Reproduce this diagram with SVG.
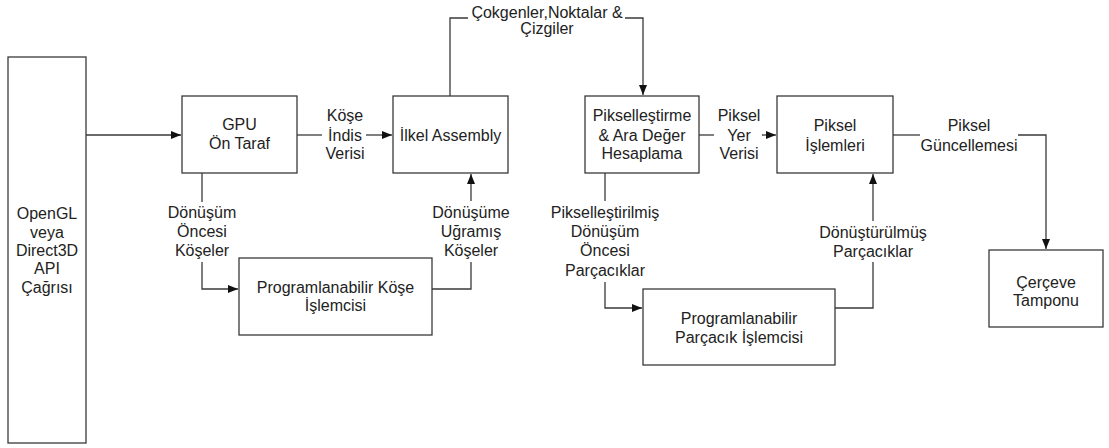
<svg xmlns="http://www.w3.org/2000/svg" width="1109" height="448" viewBox="0 0 1109 448">
<defs>
<style>
.box{fill:#fff;stroke:#3a3a3a;stroke-width:1.3}
.t{font-family:"Liberation Sans",Arial,sans-serif;font-size:16px;fill:#222;text-anchor:middle;dominant-baseline:central}
.c{fill:none;stroke:#3a3a3a;stroke-width:1.3}
</style>
<marker id="ah" viewBox="0 0 10 8" refX="10" refY="4" markerWidth="10" markerHeight="8" markerUnits="userSpaceOnUse" orient="auto">
<path d="M0,0 L10,4 L0,8 Z" fill="#111"/>
</marker>
</defs>
<rect width="1109" height="448" fill="#fff"/>
<g id="connectors">
<path class="c" d="M86,135 H181" marker-end="url(#ah)"/>
<path class="c" d="M297,135 H322"/>
<path class="c" d="M366,135 H392" marker-end="url(#ah)"/>
<path class="c" d="M202,173 V202"/>
<path class="c" d="M202,262 V289 H238" marker-end="url(#ah)"/>
<path class="c" d="M432,289 H471 V262"/>
<path class="c" d="M471,201 V174" marker-end="url(#ah)"/>
<path class="c" d="M450,96 V18 H468"/>
<path class="c" d="M625,18 H643 V95" marker-end="url(#ah)"/>
<path class="c" d="M699,135 H714"/>
<path class="c" d="M762,135 H776" marker-end="url(#ah)"/>
<path class="c" d="M605,173 V201"/>
<path class="c" d="M605,282 V308 H642" marker-end="url(#ah)"/>
<path class="c" d="M835,308 H873 V262"/>
<path class="c" d="M873,221 V174" marker-end="url(#ah)"/>
<path class="c" d="M893,135 H920"/>
<path class="c" d="M1018,135 H1046 V249" marker-end="url(#ah)"/>
</g>
<g id="labels">
<text class="t" x="345" y="115">Köşe</text>
<text class="t" x="345" y="135">İndis</text>
<text class="t" x="345" y="153">Verisi</text>
<text class="t" x="202" y="212">Dönüşüm</text>
<text class="t" x="202" y="231">Öncesi</text>
<text class="t" x="202" y="250">Köşeler</text>
<text class="t" x="471" y="212">Dönüşüme</text>
<text class="t" x="471" y="231">Uğramış</text>
<text class="t" x="471" y="250">Köşeler</text>
<text class="t" x="547" y="12">Çokgenler,Noktalar &amp;</text>
<text class="t" x="547" y="28">Çizgiler</text>
<text class="t" x="739" y="115">Piksel</text>
<text class="t" x="739" y="135">Yer</text>
<text class="t" x="739" y="153">Verisi</text>
<text class="t" x="605" y="212">Pikselleştirilmiş</text>
<text class="t" x="605" y="231">Dönüşüm</text>
<text class="t" x="605" y="250">Öncesi</text>
<text class="t" x="605" y="270">Parçacıklar</text>
<text class="t" x="873" y="232">Dönüştürülmüş</text>
<text class="t" x="873" y="251">Parçacıklar</text>
<text class="t" x="969" y="125">Piksel</text>
<text class="t" x="969" y="145">Güncellemesi</text>
</g>
<g id="api">
<rect class="box" x="8" y="57" width="78" height="386"/>
<text class="t" x="47" y="213">OpenGL</text>
<text class="t" x="47" y="232">veya</text>
<text class="t" x="47" y="250">Direct3D</text>
<text class="t" x="47" y="268">API</text>
<text class="t" x="47" y="287">Çağrısı</text>
</g>
<g id="gpu">
<rect class="box" x="182" y="96" width="115" height="77"/>
<text class="t" x="239.5" y="124">GPU</text>
<text class="t" x="239.5" y="143">Ön Taraf</text>
</g>
<g id="ilkel">
<rect class="box" x="393" y="96" width="115" height="77"/>
<text class="t" x="450.5" y="135">İlkel Assembly</text>
</g>
<g id="kose">
<rect class="box" x="239" y="258" width="193" height="77"/>
<text class="t" x="335.5" y="287">Programlanabilir Köşe</text>
<text class="t" x="335.5" y="305">İşlemcisi</text>
</g>
<g id="piksellestirme">
<rect class="box" x="585" y="96" width="114" height="77"/>
<text class="t" x="642" y="115">Pikselleştirme</text>
<text class="t" x="642" y="135">&amp; Ara Değer</text>
<text class="t" x="642" y="153">Hesaplama</text>
</g>
<g id="piksel">
<rect class="box" x="777" y="96" width="116" height="77"/>
<text class="t" x="835" y="125">Piksel</text>
<text class="t" x="835" y="145">İşlemleri</text>
</g>
<g id="parcacik">
<rect class="box" x="643" y="289" width="192" height="76"/>
<text class="t" x="739" y="318">Programlanabilir</text>
<text class="t" x="739" y="337">Parçacık İşlemcisi</text>
</g>
<g id="cerceve">
<rect class="box" x="989" y="250" width="114" height="77"/>
<text class="t" x="1046" y="282">Çerçeve</text>
<text class="t" x="1046" y="300">Tamponu</text>
</g>
</svg>
